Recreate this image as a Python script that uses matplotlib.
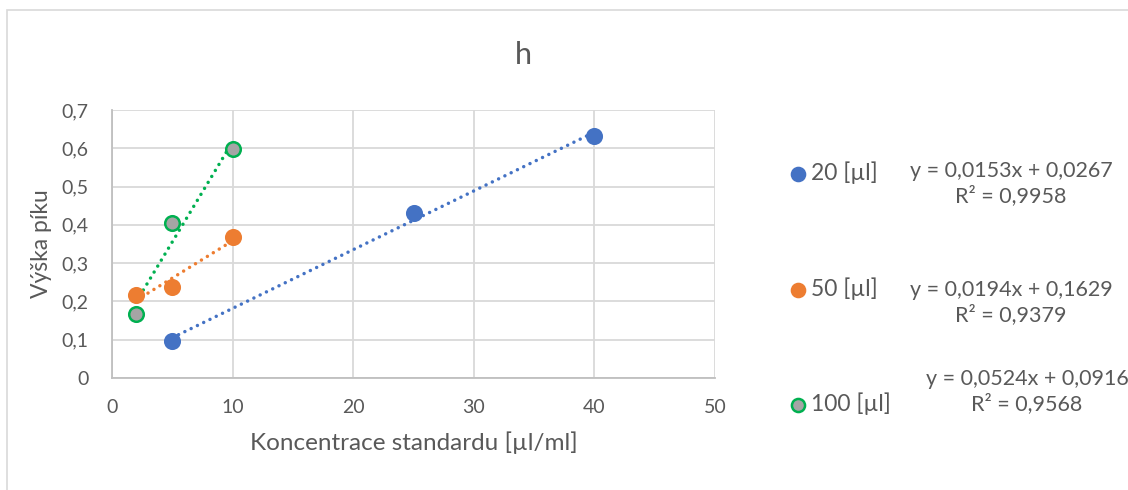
import numpy as np
import matplotlib.pyplot as plt
from matplotlib.patches import Rectangle

plt.rcParams['font.family'] = ['Lato', 'DejaVu Sans']

# data
x_20 = [5, 25, 40]
y_20 = [0.097, 0.431, 0.631]
x_50 = [2, 5, 10]
y_50 = [0.217, 0.238, 0.367]
x_100 = [2, 5, 10]
y_100 = [0.167, 0.406, 0.598]

labels = ['20 [µl]', '50 [µl]', '100 [µl]']
equations = ['y = 0,0153x + 0,0267\nR² = 0,9958',
             'y = 0,0194x + 0,1629\nR² = 0,9379',
             'y = 0,0524x + 0,0916\nR² = 0,9568']

text_col = '#595959'
grid_col = '#D9D9D9'

fig = plt.figure(figsize=(11.28, 4.90), dpi=100)
fig.patches.append(Rectangle((7 / 1128, -0.1), 1.2, 1.1 - 10 / 490, transform=fig.transFigure,
                             fill=False, edgecolor='#D9D9D9', linewidth=1.2))

ax = fig.add_axes([112 / 1128, 1 - 378 / 490, 603 / 1128, 268 / 490])

series = [
    (x_20, y_20, '#4472C4', '#4472C4'),
    (x_50, y_50, '#ED7D31', '#ED7D31'),
    (x_100, y_100, '#A5A5A5', '#00B050'),
]
line_cols = ['#4472C4', '#ED7D31', '#00B050']

handles = []
for (xs, ys, face, edge), lc, lab in zip(series, line_cols, labels):
    # linear trendline over data range
    k, q = np.polyfit(xs, ys, 1)
    xt = np.array([min(xs), max(xs)])
    ax.plot(xt, k * xt + q, color=lc, linewidth=2.5, linestyle=(0, (0.01, 2.0)),
            dash_capstyle='round', zorder=2)
    h = ax.scatter(xs, ys, s=110, color=face, edgecolors=edge, linewidths=1.8,
                   zorder=3, label=lab)
    handles.append(h)

ax.set_xlim(0, 50)
ax.set_ylim(0, 0.7)
ax.set_xticks(range(0, 51, 10))
ax.set_yticks(np.arange(0, 0.71, 0.1))
ax.set_yticklabels(['0'] + [f'0,{i}' for i in range(1, 8)])
ax.grid(True, color=grid_col, linewidth=1.3)
ax.set_axisbelow(True)
for s in ['top', 'right']:
    ax.spines[s].set_visible(False)
for s in ['left', 'bottom']:
    ax.spines[s].set_color('#BFBFBF')
    ax.spines[s].set_linewidth(1.3)
ax.tick_params(length=0, labelsize=14, colors=text_col)
ax.tick_params(axis='y', pad=17)
ax.tick_params(axis='x', pad=15)

ax.set_xlabel('Koncentrace standardu [µl/ml]', fontsize=17.5, color=text_col, labelpad=11)
ax.set_ylabel('Výška píku', fontsize=16.5, color=text_col, labelpad=7)
fig.text(523 / 1128, 1 - 55 / 490, 'h', fontsize=22, color=text_col, ha='center', va='center')

fig.legend(handles=handles, loc='upper left', bbox_to_anchor=(766 / 1128, 1 - 141 / 490),
           frameon=False, fontsize=16.5, labelcolor=text_col, labelspacing=4.05,
           handletextpad=0.05, handlelength=1.0, markerscale=0.9)

eq_pos = [(1011, 184), (1011, 303), (1027, 392)]
for (px, py), eq in zip(eq_pos, equations):
    fig.text(px / 1128, 1 - py / 490, eq, fontsize=15.5, color=text_col,
             ha='center', va='center', multialignment='center', linespacing=1.25)

fig.savefig('out.png', dpi=100)
